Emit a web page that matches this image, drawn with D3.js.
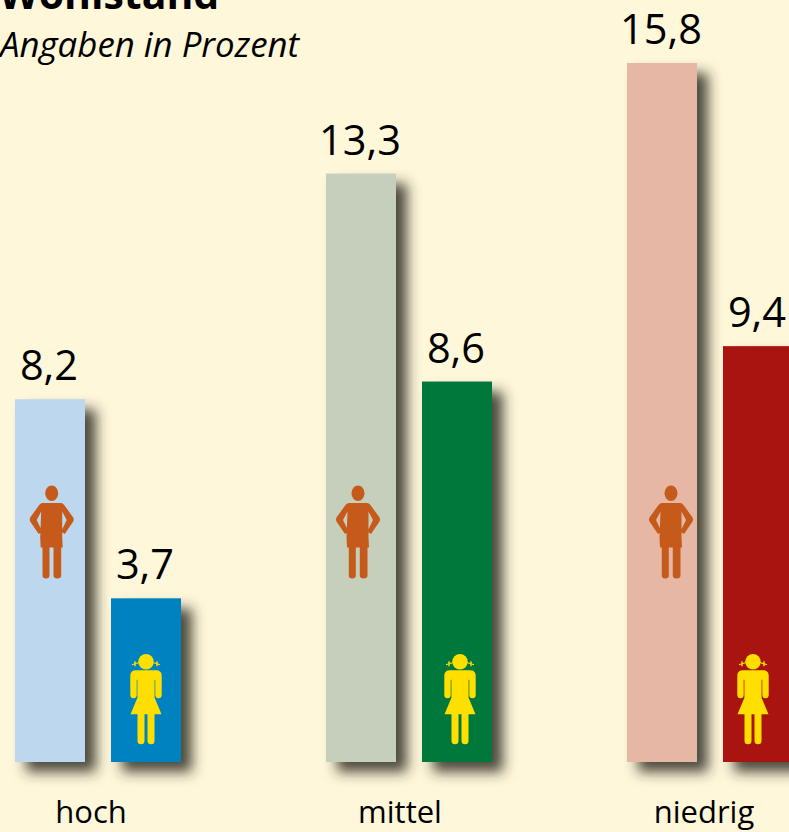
<!DOCTYPE html>
<html><head><meta charset="utf-8">
<script src="https://cdn.jsdelivr.net/npm/d3@7/dist/d3.min.js"></script>
<style>html,body{margin:0;padding:0;background:#fff7da;overflow:hidden}svg{display:block}text{font-family:"Open Sans",sans-serif;fill:#000}</style>
</head><body><svg id="c" width="789" height="832"></svg>
<script>
const categories = ["hoch","mittel","niedrig"];
const maleValues = [8.2,13.3,15.8];
const femaleValues = [3.7,8.6,9.4];
const maleColors = ["#bdd7ee","#c6cfbc","#e5b7a4"];
const femaleColors = ["#0082c0","#00783c","#aa1410"];
const title = "Wohlstand";
const subtitle = "Angaben in Prozent";
const fmt = v => String(v).replace(".", ",");

const W=789,H=832, barW=70, femaleGap=96;
const svg=d3.select("#c");
const y=d3.scaleLinear().domain([0,15.8]).range([762,63]);
const x=d3.scaleOrdinal().domain(categories).range([15,326,627]);
const labelX=d3.scaleOrdinal().domain(categories).range([91,400,704]);
const manX=d3.scaleOrdinal().domain(categories).range([51.7,358,671]);
const girlX=d3.scaleOrdinal().domain(categories).range([146,460,753]);

const defs=svg.append("defs");
const f=defs.append("filter").attr("id","sh").attr("x","-50%").attr("y","-20%").attr("width","220%").attr("height","150%");
f.append("feGaussianBlur").attr("in","SourceAlpha").attr("stdDeviation",6.5).attr("result","b");
f.append("feOffset").attr("in","b").attr("dx",11).attr("dy",10).attr("result","o");
f.append("feFlood").attr("flood-color","#2c2b22").attr("flood-opacity",0.85);
f.append("feComposite").attr("in2","o").attr("operator","in");

svg.append("rect").attr("width",W).attr("height",H).attr("fill","#fff7da");
svg.append("text").attr("x",-1).attr("y",9).attr("font-size",41).attr("font-weight",700).text(title);
svg.append("text").attr("x",0).attr("y",57).attr("font-size",34.8).attr("font-style","italic").text(subtitle);

const rows=categories.flatMap((c,i)=>[
 {c,v:maleValues[i],col:maleColors[i],dx:0},
 {c,v:femaleValues[i],col:femaleColors[i],dx:femaleGap}]);
const rect=()=>s=>s.attr("x",d=>x(d.c)+d.dx).attr("y",d=>y(d.v)).attr("width",barW).attr("height",d=>y(0)-y(d.v));
svg.selectAll(".shadow").data(rows).join("rect").attr("class","shadow").call(rect()).attr("fill","#000").attr("filter","url(#sh)");
svg.selectAll(".bar").data(rows).join("rect").attr("class","bar").call(rect()).attr("fill",d=>d.col);
svg.selectAll(".val").data(rows).join("text").attr("class","val")
 .attr("x",d=>x(d.c)+d.dx+barW/2-1).attr("y",d=>y(d.v)-19).attr("text-anchor","middle").attr("font-size",41.5).text(d=>fmt(d.v));
svg.selectAll(".cat").data(categories).join("text").attr("class","cat")
 .attr("x",d=>labelX(d)).attr("y",823).attr("text-anchor","middle").attr("font-size",31).text(d=>d);

const manPath="M-9 17.5L9 17.5Q11 17.5 12.5 19.5L21.5 32Q22.5 34 21.5 36L13 48.5L9.5 46L15 34.5L10.5 26L10.5 52L11 62L9.5 62L9.5 90Q9.5 93 5.6 93Q1.8 93 1.8 90L1.8 62L-2.2 62L-2.2 90Q-2.2 93 -5.7 93Q-9.2 93 -9.2 90L-9.2 62L-11 62L-11.5 52L-10.5 26L-15 34.5L-9.5 46L-13 48.5L-21.5 36Q-22.5 34 -21.5 32L-12.5 19.5Q-11 17.5 -9 17.5Z";
const girlPath="M-10 16.5L10 16.5Q15.7 16.5 15.7 22L15.7 41Q15.7 44.5 12.5 44.5Q9.3 44.5 9.3 41L9.3 26L8.6 26L8.6 44L15.5 60.5L8.5 60.5L8.5 87Q8.5 90.5 5.2 90.5Q1.5 90.5 1.5 87L1.5 60.5L-1.5 60.5L-1.5 87Q-1.5 90.5 -5 90.5Q-8.5 90.5 -8.5 87L-8.5 60.5L-15.5 60.5L-8.6 44L-8.6 26L-9.3 26L-9.3 41Q-9.3 44.5 -12.5 44.5Q-15.7 44.5 -15.7 41L-15.7 22Q-15.7 16.5 -10 16.5Z";

const men=svg.selectAll(".man").data(categories).join("g").attr("class","man").attr("transform",d=>`translate(${manX(d)},485.5)`).attr("fill","#c55a1a");
men.append("ellipse").attr("cy",7.7).attr("rx",6.5).attr("ry",7.7);
men.append("path").attr("d",manPath);
const girls=svg.selectAll(".girl").data(categories).join("g").attr("class","girl").attr("transform",d=>`translate(${girlX(d)},653.7)`).attr("fill","#ffdf00");
girls.append("circle").attr("cy",8).attr("r",7.7);
girls.append("path").attr("d",girlPath);
girls.append("path").attr("d","M-6 8.5L-14 11M6 8.5L14 11").attr("stroke","#ffdf00").attr("stroke-width",1.2);
girls.append("path").attr("d","M-11 7.5L-11 12.5M11 7.5L11 12.5").attr("stroke","#ffdf00").attr("stroke-width",1.4);
</script></body></html>
